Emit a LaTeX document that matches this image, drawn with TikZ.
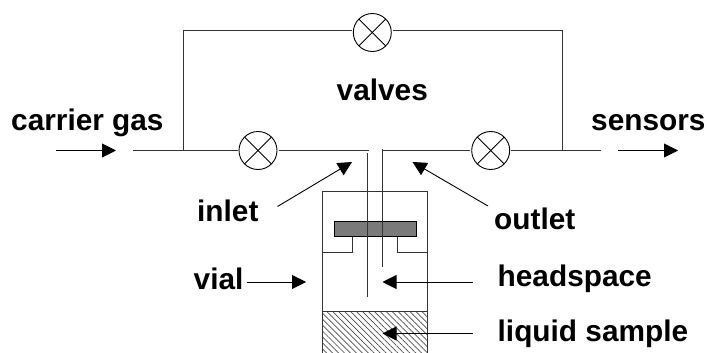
\documentclass[tikz,border=0pt]{standalone}
\usepackage{fontspec}
\setmainfont{Liberation Sans}
\usetikzlibrary{arrows.meta,patterns.meta}
\tikzset{
 pipe/.style={line width=1pt,color=black!80},
 flow/.style={line width=0.9pt,-{Triangle[length=14pt,width=14pt]}},
 lab/.style={font=\bfseries\fontsize{29.8}{34}\selectfont,anchor=base west,inner sep=0pt},
 valve/.style={circle,draw,line width=0.9pt,minimum size=38pt,inner sep=0pt,outer sep=1.5pt,
  path picture={
   \draw[line width=0.9pt](path picture bounding box.south west)--(path picture bounding box.north east);
   \draw[line width=0.9pt](path picture bounding box.north west)--(path picture bounding box.south east);}},
}
\begin{document}
\begin{tikzpicture}[x=1pt,y=-1pt]
 \useasboundingbox (0,0) rectangle (707,353);
 % valves
 \node[valve] (valvetop) at (372.3,32.5) {};
 \node[valve] (valveleft) at (258,150.5) {};
 \node[valve] (valveright) at (490.7,150.5) {};
 % pipe ends and branches
 \coordinate (pipein) at (133,150.5);
 \coordinate (pipeout) at (601,150.5);
 \coordinate (branchleft) at (183,150.5);
 \coordinate (branchright) at (562.5,150.5);
 \coordinate (cornerleft) at (183,30.5);
 \coordinate (cornerright) at (562.5,30.5);
 \coordinate (inletjoin) at (369,150.5);
 \coordinate (outletjoin) at (382,150.5);
 \draw[pipe](pipein)--(valveleft);
 \draw[pipe](valveleft)--(inletjoin);
 \draw[pipe](outletjoin)--(valveright);
 \draw[pipe](valveright)--(pipeout);
 \draw[pipe](branchleft)--(cornerleft)--(cornerleft-|valvetop.west);
 \draw[pipe](cornerright-|valvetop.east)--(cornerright)--(branchright);
 % vial
 \fill[pattern={Lines[angle=-45,distance=4.2pt,line width=0.7pt]},pattern color=black!70](322,311.5) rectangle (427,353);
 \draw[pipe](322,353)--(322,191.5)--(427,191.5)--(427,353);
 \draw[pipe](322,311.5)--(427,311.5);
 \draw[pipe](322,252)--(352,252)--(352,237);
 \draw[pipe](397,237)--(397,252)--(427,252);
 \draw[line width=1pt,fill=black!52](334.5,221.5) rectangle (416.5,236.5);
 % needles
 \coordinate (needleintop) at (367.3,153);
 \coordinate (needleinend) at (367.3,296.5);
 \coordinate (needleouttop) at (382,149);
 \coordinate (needleoutend) at (382,266.5);
 \draw[pipe](needleintop)--(needleinend);
 \draw[pipe](needleouttop)--(needleoutend);
 % labels
 \node[lab] (valves) at (336.5,100) {valves};
 \node[lab] (carrier) at (11,130.5) {carrier gas};
 \node[lab] (sensors) at (591,130.5) {sensors};
 \node[lab] (inlet) at (197,221) {inlet};
 \node[lab] (outlet) at (494,229.5) {outlet};
 \node[lab] (vial) at (193.5,289.5) {vial};
 \node[lab] (headspace) at (497.5,286) {headspace};
 \node[lab] (liquid) at (497.5,341.5) {liquid sample};
 % arrows
 \coordinate (carrierfrom) at (56,150.5);
 \coordinate (carrierto) at (116,150.5);
 \coordinate (sensorsfrom) at (618,150.5);
 \coordinate (sensorsto) at (678,150.5);
 \coordinate (inletfrom) at (277.5,206.5);
 \coordinate (inletto) at (352,162);
 \coordinate (outletfrom) at (488,206);
 \coordinate (outletto) at (412.5,162);
 \coordinate (vialfrom) at (246.5,282);
 \coordinate (vialto) at (306,282);
 \coordinate (headfrom) at (473,282);
 \coordinate (headto) at (382.5,282);
 \coordinate (liquidfrom) at (473,333.5);
 \coordinate (liquidto) at (382.5,333.5);
 \draw[flow](carrierfrom)--(carrierto);
 \draw[flow](sensorsfrom)--(sensorsto);
 \draw[flow](inletfrom)--(inletto);
 \draw[flow](outletfrom)--(outletto);
 \draw[flow](vialfrom)--(vialto);
 \draw[flow](headfrom)--(headto);
 \draw[flow](liquidfrom)--(liquidto);
\end{tikzpicture}
\end{document}
